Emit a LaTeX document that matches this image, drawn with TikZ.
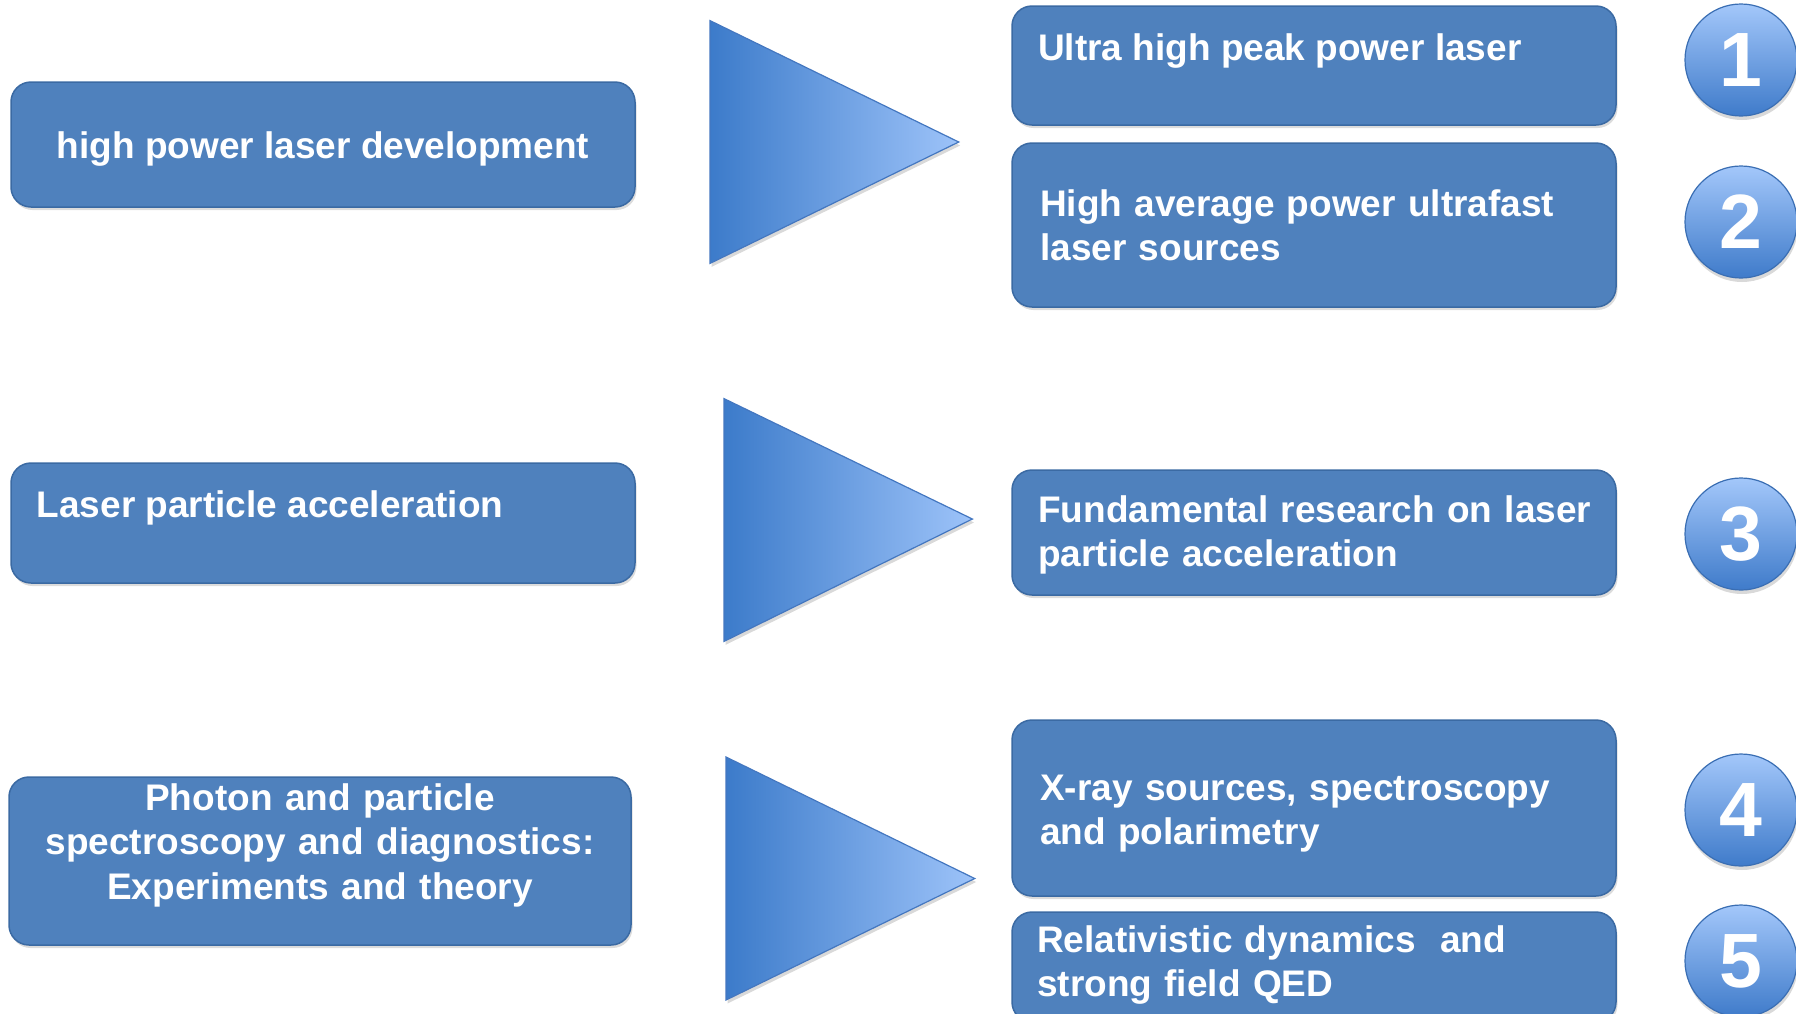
\documentclass[tikz,border=0pt]{standalone}
\usepackage{fontspec}
\setmainfont{Liberation Sans}
\usetikzlibrary{shadows}

\definecolor{boxfill}{HTML}{4F81BD}
\definecolor{boxline}{HTML}{3B6AA3}
\definecolor{tridark}{HTML}{3C7BCA}
\definecolor{trilight}{HTML}{9DC3F9}
\definecolor{triline}{HTML}{4477C0}
\definecolor{circtop}{HTML}{A3C7FA}
\definecolor{circbot}{HTML}{3F7BCA}
\definecolor{circline}{HTML}{3A6EB3}

\begin{document}
\begin{tikzpicture}[x=1pt, y=-1pt,
  topicbox/.style={draw=boxline, line width=1.5pt, fill=boxfill,
    rounded corners=20pt, inner sep=0pt, rectangle,
    drop shadow={opacity=0.28, shadow xshift=1.5pt, shadow yshift=-3pt}},
  boxtext/.style={text=white, inner sep=0pt,
    font=\fontsize{37}{44.5}\selectfont\bfseries},
  arrowtri/.style={left color=tridark, right color=trilight,
    draw=triline, line width=1.2pt, line join=miter,
    drop shadow={opacity=0.3, shadow xshift=1.5pt, shadow yshift=-3.5pt}},
  numdisc/.style={circle, minimum size=112pt, inner sep=0pt,
    top color=circtop, bottom color=circbot,
    draw=circline, line width=1.2pt, text=white,
    font=\fontsize{77}{80}\selectfont\bfseries,
    drop shadow={opacity=0.3, shadow xshift=1pt, shadow yshift=-4pt}}
]
\useasboundingbox (0,0) rectangle (1796,1013);
\clip (0,0) rectangle (1796,1013);

% ---- topic boxes on the left
\node[topicbox, minimum width=624pt, minimum height=125pt] (hpld) at (323,144.5) {};
\node[topicbox, minimum width=624pt, minimum height=120pt] (lpa) at (323,523) {};
\node[topicbox, minimum width=622pt, minimum height=168pt] (pps) at (320,861) {};

\node[boxtext, anchor=base] (hpldtxt) at (323,158.5) {high power laser development};
\node[boxtext, anchor=base west] (lpatxt) at (36.5,517) {Laser particle acceleration};
\node[boxtext, anchor=base, text width=610pt, align=center] (ppstxt) at (320,810)
  {Photon and particle\\spectroscopy and diagnostics:\\Experiments and theory};

% ---- arrow triangles
\coordinate (t1a) at (710,20.6);  \coordinate (t1b) at (710,263.4); \coordinate (t1c) at (958.7,142);
\coordinate (t2a) at (724,398.6); \coordinate (t2b) at (724,641.4); \coordinate (t2c) at (972.4,519);
\coordinate (t3a) at (726,757);   \coordinate (t3b) at (726,1000);  \coordinate (t3c) at (974.7,878.5);
\path[arrowtri] (t1a) -- (t1c) -- (t1b) -- cycle;
\path[arrowtri] (t2a) -- (t2c) -- (t2b) -- cycle;
\path[arrowtri] (t3a) -- (t3c) -- (t3b) -- cycle;

% ---- research topics on the right
\node[topicbox, minimum width=604pt, minimum height=119pt] (r1) at (1314,65.5) {};
\node[topicbox, minimum width=604pt, minimum height=164pt] (r2) at (1314,225) {};
\node[topicbox, minimum width=604pt, minimum height=125pt] (r3) at (1314,532.5) {};
\node[topicbox, minimum width=604pt, minimum height=176pt] (r4) at (1314,808) {};
\node[topicbox, minimum width=604pt, minimum height=110pt] (r5) at (1314,967) {};

\node[boxtext, anchor=base west] (r1txt) at (1038,60) {Ultra high peak power laser};
\node[boxtext, anchor=base west, text width=580pt, align=left] (r2txt) at (1040,216)
  {High average power ultrafast\\laser sources};
\node[boxtext, anchor=base west, text width=580pt, align=left] (r3txt) at (1038,522)
  {Fundamental research on laser\\particle acceleration};
\node[boxtext, anchor=base west, text width=580pt, align=left] (r4txt) at (1040,800)
  {X-ray sources, spectroscopy\\and polarimetry};
\node[boxtext, anchor=base west, text width=580pt, align=left] (r5txt) at (1037,952)
  {Relativistic dynamics\ \ and\\strong field QED};

% ---- numbered discs
\node[numdisc] (n1) at (1741,60) {1};
\node[numdisc] (n2) at (1741,222) {2};
\node[numdisc] (n3) at (1741,534) {3};
\node[numdisc] (n4) at (1741,810) {4};
\node[numdisc] (n5) at (1741,961) {5};
\end{tikzpicture}
\end{document}
